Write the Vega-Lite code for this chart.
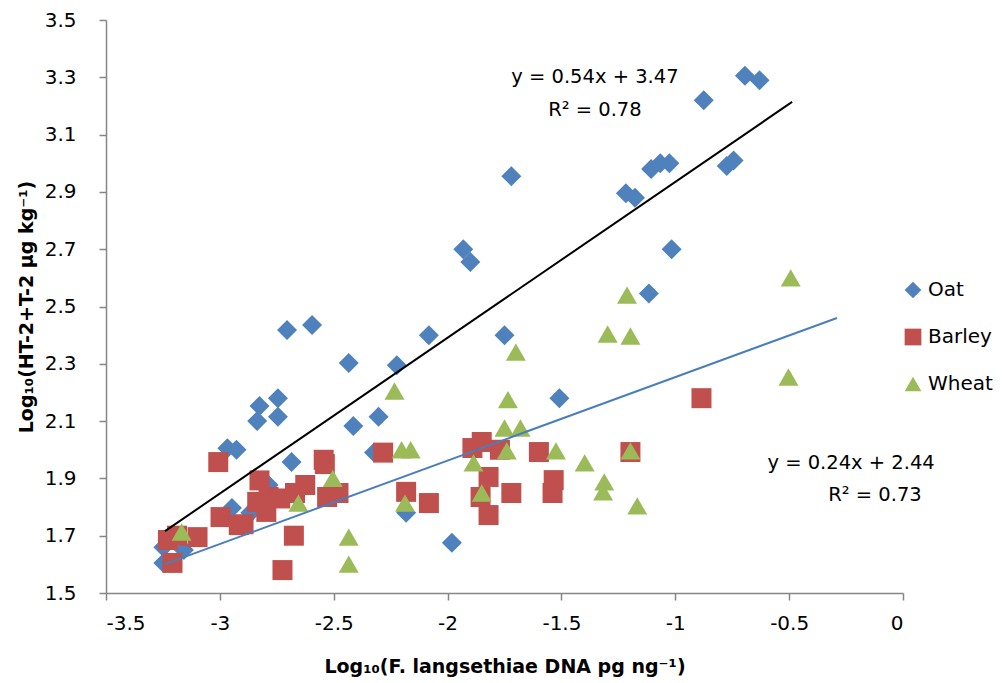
{
  "$schema": "https://vega.github.io/schema/vega-lite/v6.json",
  "width": 797,
  "height": 573,
  "autosize": {"type": "none"},
  "padding": {"left": 106, "top": 20, "right": 102, "bottom": 90},
  "background": "white",
  "config": {"view": {"stroke": null}, "font": "DejaVu Sans"},
  "datasets": {
    "points": [
      {"crop": "Oat", "x": -0.694, "y": 3.305},
      {"crop": "Oat", "x": -0.63, "y": 3.29},
      {"crop": "Oat", "x": -0.875, "y": 3.22},
      {"crop": "Oat", "x": -1.106, "y": 2.98},
      {"crop": "Oat", "x": -1.066, "y": 3.0},
      {"crop": "Oat", "x": -1.026, "y": 3.0},
      {"crop": "Oat", "x": -1.217, "y": 2.895},
      {"crop": "Oat", "x": -1.177, "y": 2.88},
      {"crop": "Oat", "x": -0.774, "y": 2.99},
      {"crop": "Oat", "x": -0.744, "y": 3.01},
      {"crop": "Oat", "x": -1.72, "y": 2.955},
      {"crop": "Oat", "x": -1.931, "y": 2.7},
      {"crop": "Oat", "x": -1.9, "y": 2.655},
      {"crop": "Oat", "x": -1.016, "y": 2.7},
      {"crop": "Oat", "x": -1.116, "y": 2.545},
      {"crop": "Oat", "x": -2.082, "y": 2.4},
      {"crop": "Oat", "x": -1.75, "y": 2.4},
      {"crop": "Oat", "x": -2.223, "y": 2.295},
      {"crop": "Oat", "x": -1.509, "y": 2.18},
      {"crop": "Oat", "x": -2.705, "y": 2.418},
      {"crop": "Oat", "x": -2.595, "y": 2.435},
      {"crop": "Oat", "x": -2.434, "y": 2.303},
      {"crop": "Oat", "x": -2.826, "y": 2.153},
      {"crop": "Oat", "x": -2.745, "y": 2.18},
      {"crop": "Oat", "x": -2.836, "y": 2.1},
      {"crop": "Oat", "x": -2.745, "y": 2.115},
      {"crop": "Oat", "x": -2.414, "y": 2.083},
      {"crop": "Oat", "x": -2.303, "y": 2.115},
      {"crop": "Oat", "x": -2.967, "y": 2.005},
      {"crop": "Oat", "x": -2.927, "y": 2.0},
      {"crop": "Oat", "x": -2.685, "y": 1.957},
      {"crop": "Oat", "x": -2.323, "y": 1.99},
      {"crop": "Oat", "x": -2.786, "y": 1.877},
      {"crop": "Oat", "x": -2.947, "y": 1.797},
      {"crop": "Oat", "x": -2.866, "y": 1.78},
      {"crop": "Oat", "x": -3.248, "y": 1.605},
      {"crop": "Oat", "x": -3.158, "y": 1.65},
      {"crop": "Oat", "x": -3.248, "y": 1.66},
      {"crop": "Oat", "x": -2.182, "y": 1.78},
      {"crop": "Oat", "x": -1.981, "y": 1.675},
      {"crop": "Barley", "x": -3.007, "y": 1.957},
      {"crop": "Barley", "x": -2.544, "y": 1.965},
      {"crop": "Barley", "x": -2.539, "y": 1.95},
      {"crop": "Barley", "x": -2.283, "y": 1.99},
      {"crop": "Barley", "x": -2.826, "y": 1.893},
      {"crop": "Barley", "x": -2.625, "y": 1.877},
      {"crop": "Barley", "x": -2.786, "y": 1.835},
      {"crop": "Barley", "x": -2.735, "y": 1.83},
      {"crop": "Barley", "x": -2.67, "y": 1.849},
      {"crop": "Barley", "x": -2.836, "y": 1.818},
      {"crop": "Barley", "x": -2.796, "y": 1.783},
      {"crop": "Barley", "x": -2.529, "y": 1.835},
      {"crop": "Barley", "x": -2.479, "y": 1.849},
      {"crop": "Barley", "x": -2.997, "y": 1.765},
      {"crop": "Barley", "x": -2.917, "y": 1.737},
      {"crop": "Barley", "x": -2.896, "y": 1.74},
      {"crop": "Barley", "x": -3.228, "y": 1.685},
      {"crop": "Barley", "x": -3.098, "y": 1.695},
      {"crop": "Barley", "x": -3.188, "y": 1.7},
      {"crop": "Barley", "x": -3.208, "y": 1.605},
      {"crop": "Barley", "x": -2.675, "y": 1.7},
      {"crop": "Barley", "x": -2.725, "y": 1.58},
      {"crop": "Barley", "x": -2.182, "y": 1.853},
      {"crop": "Barley", "x": -2.082, "y": 1.814},
      {"crop": "Barley", "x": -1.85, "y": 2.027},
      {"crop": "Barley", "x": -1.891, "y": 2.006},
      {"crop": "Barley", "x": -1.77, "y": 2.0},
      {"crop": "Barley", "x": -1.82, "y": 1.905},
      {"crop": "Barley", "x": -1.855, "y": 1.835},
      {"crop": "Barley", "x": -1.82, "y": 1.772},
      {"crop": "Barley", "x": -1.72, "y": 1.849},
      {"crop": "Barley", "x": -1.599, "y": 1.992},
      {"crop": "Barley", "x": -1.534, "y": 1.894},
      {"crop": "Barley", "x": -1.539, "y": 1.849},
      {"crop": "Barley", "x": -1.197, "y": 1.992},
      {"crop": "Barley", "x": -0.885, "y": 2.18},
      {"crop": "Wheat", "x": -3.168, "y": 1.713},
      {"crop": "Wheat", "x": -2.504, "y": 1.9},
      {"crop": "Wheat", "x": -2.655, "y": 1.814},
      {"crop": "Wheat", "x": -2.434, "y": 1.695},
      {"crop": "Wheat", "x": -2.434, "y": 1.601},
      {"crop": "Wheat", "x": -2.233, "y": 2.205},
      {"crop": "Wheat", "x": -2.202, "y": 2.0},
      {"crop": "Wheat", "x": -2.162, "y": 2.0},
      {"crop": "Wheat", "x": -2.187, "y": 1.814},
      {"crop": "Wheat", "x": -1.735, "y": 2.175},
      {"crop": "Wheat", "x": -1.75, "y": 2.076},
      {"crop": "Wheat", "x": -1.68, "y": 2.076},
      {"crop": "Wheat", "x": -1.74, "y": 1.996},
      {"crop": "Wheat", "x": -1.886, "y": 1.954},
      {"crop": "Wheat", "x": -1.85, "y": 1.849},
      {"crop": "Wheat", "x": -1.524, "y": 1.996},
      {"crop": "Wheat", "x": -1.398, "y": 1.954},
      {"crop": "Wheat", "x": -1.312, "y": 1.888},
      {"crop": "Wheat", "x": -1.317, "y": 1.853},
      {"crop": "Wheat", "x": -1.197, "y": 1.996},
      {"crop": "Wheat", "x": -1.167, "y": 1.804},
      {"crop": "Wheat", "x": -1.212, "y": 2.54},
      {"crop": "Wheat", "x": -1.297, "y": 2.404},
      {"crop": "Wheat", "x": -1.197, "y": 2.397},
      {"crop": "Wheat", "x": -1.7, "y": 2.341},
      {"crop": "Wheat", "x": -0.493, "y": 2.6},
      {"crop": "Wheat", "x": -0.503, "y": 2.254}
    ],
    "fits": [
      {"fit": "Oat", "x": -3.241, "y": 1.716},
      {"fit": "Oat", "x": -0.487, "y": 3.214},
      {"fit": "Other", "x": -3.241, "y": 1.601},
      {"fit": "Other", "x": -0.29, "y": 2.46}
    ],
    "labels": [
      {"x": -1.353, "y": 3.301, "text": "y = 0.54x + 3.47"},
      {"x": -1.353, "y": 3.186, "text": "R² = 0.78"},
      {"x": -0.228, "y": 1.954, "text": "y = 0.24x + 2.44"},
      {"x": -0.123, "y": 1.842, "text": "R² = 0.73"}
    ]
  },
  "layer": [
    {
      "data": {"name": "points"},
      "mark": {"type": "point", "filled": true, "size": 400, "opacity": 1},
      "encoding": {
        "x": {
          "field": "x", "type": "quantitative",
          "scale": {"domain": [-3.5, 0], "nice": false, "zero": false},
          "axis": {
            "values": [-3.5, -3, -2.5, -2, -1.5, -1, -0.5, 0],
            "labelExpr": "'' + datum.value",
            "grid": false,
            "domainColor": "#868686", "tickColor": "#868686", "tickSize": 7, "domainWidth": 1.5, "tickWidth": 1.5,
            "labelFontSize": 20, "labelColor": "#000000", "labelPadding": 13,
            "title": "Log₁₀(F. langsethiae DNA pg ng⁻¹)",
            "titleFontSize": 19, "titleFontWeight": "bold", "titleColor": "#000000", "titlePadding": 24
          }
        },
        "y": {
          "field": "y", "type": "quantitative",
          "scale": {"domain": [1.5, 3.5], "nice": false, "zero": false},
          "axis": {
            "values": [1.5, 1.7, 1.9, 2.1, 2.3, 2.5, 2.7, 2.9, 3.1, 3.3, 3.5],
            "format": ".1f",
            "grid": false,
            "domainColor": "#868686", "tickColor": "#868686", "tickSize": 7, "domainWidth": 1.5, "tickWidth": 1.5,
            "labelFontSize": 20, "labelColor": "#000000", "labelPadding": 23,
            "title": "Log₁₀(HT-2+T-2 μg kg⁻¹)",
            "titleFontSize": 19, "titleFontWeight": "bold", "titleColor": "#000000", "titlePadding": 8
          }
        },
        "shape": {
          "field": "crop", "type": "nominal",
          "scale": {"domain": ["Oat", "Barley", "Wheat"], "range": ["diamond", "square", "triangle-up"]},
          "legend": {
            "title": null, "orient": "none", "legendX": 797, "legendY": 260,
            "labelFontSize": 20, "labelColor": "#000000", "symbolSize": 280, "rowPadding": 27,
            "labelOffset": 5, "symbolStrokeWidth": 0, "padding": 0
          }
        },
        "color": {
          "field": "crop", "type": "nominal",
          "scale": {"domain": ["Oat", "Barley", "Wheat"], "range": ["#4F81BD", "#C0504D", "#9BBB59"]},
          "legend": {
            "title": null, "orient": "none", "legendX": 797, "legendY": 260,
            "labelFontSize": 20, "labelColor": "#000000", "symbolSize": 280, "rowPadding": 27,
            "labelOffset": 5, "symbolStrokeWidth": 0, "padding": 0
          }
        }
      }
    },
    {
      "data": {"name": "fits"},
      "transform": [{"filter": "datum.fit == 'Oat'"}],
      "mark": {"type": "line", "color": "#000000", "strokeWidth": 2},
      "encoding": {
        "x": {"field": "x", "type": "quantitative"},
        "y": {"field": "y", "type": "quantitative"}
      }
    },
    {
      "data": {"name": "fits"},
      "transform": [{"filter": "datum.fit == 'Other'"}],
      "mark": {"type": "line", "color": "#4A7EBB", "strokeWidth": 2},
      "encoding": {
        "x": {"field": "x", "type": "quantitative"},
        "y": {"field": "y", "type": "quantitative"}
      }
    },
    {
      "data": {"name": "labels"},
      "mark": {"type": "text", "fontSize": 19.5, "align": "center", "baseline": "middle", "color": "#000000"},
      "encoding": {
        "x": {"field": "x", "type": "quantitative"},
        "y": {"field": "y", "type": "quantitative"},
        "text": {"field": "text"}
      }
    }
  ]
}
